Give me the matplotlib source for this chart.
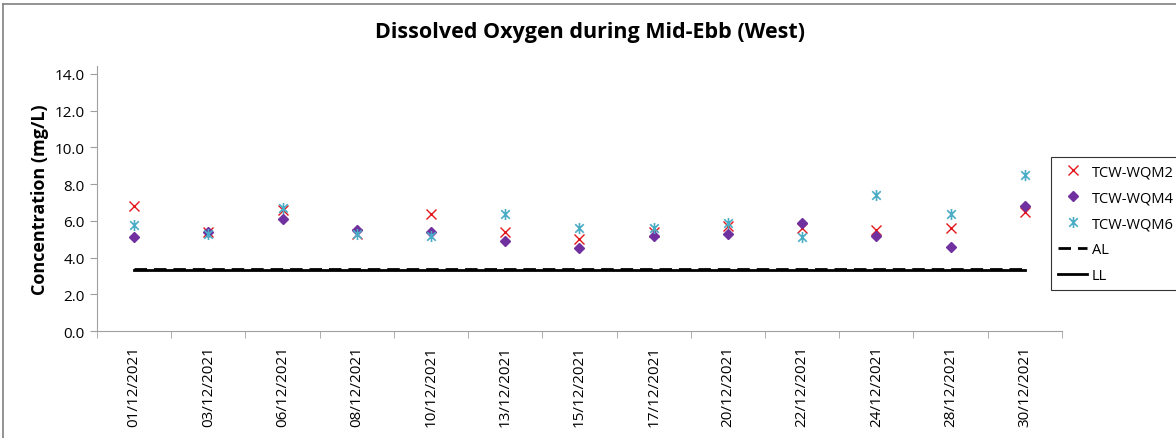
import matplotlib.pyplot as plt
from matplotlib.path import Path
from matplotlib.lines import Line2D

plt.rcParams['font.family'] = ['Open Sans', 'DejaVu Sans']

dates = ['01/12/2021', '03/12/2021', '06/12/2021', '08/12/2021', '10/12/2021',
         '13/12/2021', '15/12/2021', '17/12/2021', '20/12/2021', '22/12/2021',
         '24/12/2021', '28/12/2021', '30/12/2021']
wqm2 = [6.8, 5.4, 6.6, 5.3, 6.4, 5.4, 5.0, 5.4, 5.7, 5.6, 5.5, 5.6, 6.5]
wqm4 = [5.1, 5.4, 6.1, 5.5, 5.4, 4.9, 4.5, 5.2, 5.3, 5.9, 5.2, 4.6, 6.8]
wqm6 = [5.8, 5.3, 6.7, 5.3, 5.2, 6.4, 5.6, 5.6, 5.9, 5.1, 7.4, 6.4, 8.5]
al_level = 3.4
ll_level = 3.3

# star marker: an x with a vertical bar through it
star = Path([(-1, -1), (1, 1), (-1, 1), (1, -1), (0, -1.3), (0, 1.3)],
            [Path.MOVETO, Path.LINETO, Path.MOVETO, Path.LINETO,
             Path.MOVETO, Path.LINETO])

fig = plt.figure(figsize=(11.76, 4.39), dpi=100)
ax = fig.add_axes([0.0825, 0.2437, 0.8205, 0.6043])

x = list(range(len(dates)))
ax.plot(x, [al_level] * len(dates), color='black', lw=2.0, dashes=(4.5, 2.5))
ax.plot(x, [ll_level] * len(dates), color='black', lw=2.0)
ax.plot(x, wqm2, ls='none', marker='x', ms=7, mew=1.0, color='#e3161b')
ax.plot(x, wqm4, ls='none', marker='D', ms=5.5, color='#7030a0')
ax.plot(x, wqm6, ls='none', marker=star, ms=8, mew=1.2, color='#4bacc6')

ax.set_xlim(-0.5, len(dates) - 0.5)
ax.set_ylim(0, 14.45)
ax.set_yticks([0, 2, 4, 6, 8, 10, 12, 14])
ax.set_yticklabels(['%.1f' % v for v in ax.get_yticks()], fontsize=11)
ax.set_xticks(x)
ax.set_xticklabels(dates, rotation=90, fontsize=11)
ax.set_xticks([i - 0.5 for i in range(len(dates) + 1)], minor=True)
ax.tick_params(axis='x', which='major', length=0, pad=10)
ax.tick_params(axis='x', which='minor', length=5, color='#a0a0a0')
ax.tick_params(axis='y', length=5, color='#a0a0a0', direction='out', pad=4)

for side in ['top', 'right']:
    ax.spines[side].set_visible(False)
for side in ['left', 'bottom']:
    ax.spines[side].set_color('#a0a0a0')

ax.set_ylabel('Concentration (mg/L)', fontsize=13, fontweight='bold', labelpad=4)
fig.text(0.502, 0.927, 'Dissolved Oxygen during Mid-Ebb (West)', ha='center',
         va='center', fontsize=15.5, fontweight='bold')

handles = [
    Line2D([], [], ls='none', marker='x', ms=7, mew=1.0, color='#e3161b'),
    Line2D([], [], ls='none', marker='D', ms=5.5, color='#7030a0'),
    Line2D([], [], ls='none', marker=star, ms=8, mew=1.2, color='#4bacc6'),
    Line2D([], [], color='black', lw=2.0, dashes=(4.5, 2.5)),
    Line2D([], [], color='black', lw=2.0),
]
labels = ['TCW-WQM2', 'TCW-WQM4', 'TCW-WQM6', 'AL', 'LL']
leg = fig.legend(handles, labels, loc='upper left',
                 bbox_to_anchor=(1051 / 1176, 1 - 158 / 439), fontsize=10.5,
                 frameon=True, fancybox=False, edgecolor='black',
                 handlelength=2.0, handletextpad=0.3, borderpad=0.5,
                 labelspacing=0.75, borderaxespad=0)
leg.get_frame().set_linewidth(0.8)

# outer chart border (left and top edges visible)
fig.add_artist(Line2D([3 / 1176, 3 / 1176], [0, 1 - 5 / 439],
                      color='#808080', lw=1.2, transform=fig.transFigure))
fig.add_artist(Line2D([3 / 1176, 1], [1 - 5 / 439, 1 - 5 / 439],
                      color='#808080', lw=1.2, transform=fig.transFigure))

fig.savefig('out.png', dpi=100)
